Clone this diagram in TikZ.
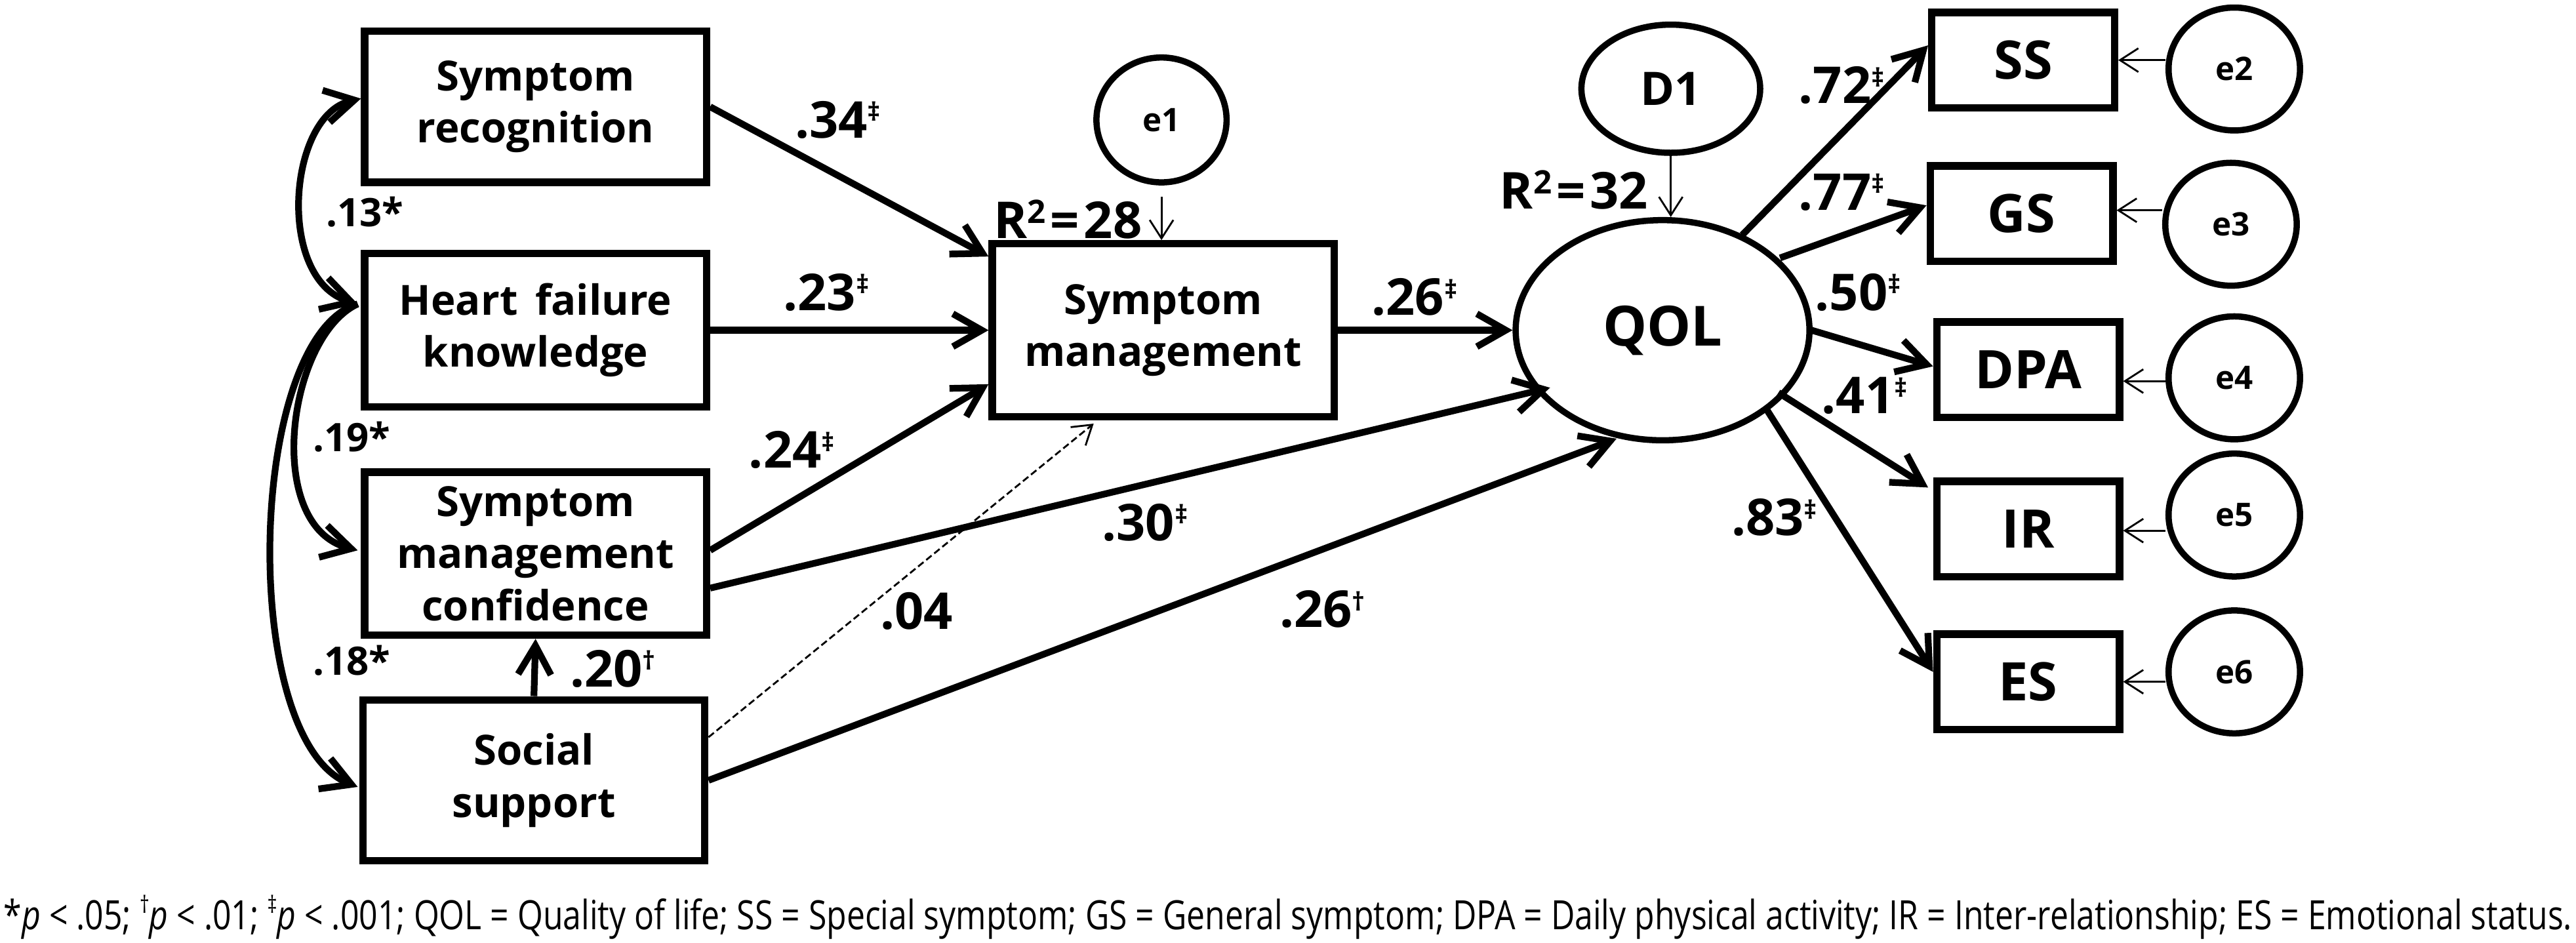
\documentclass[tikz,border=0pt]{standalone}
\usepackage{fontspec}
\setmainfont{Open Sans}
\usepackage{graphicx}
\usetikzlibrary{arrows.meta,shapes.geometric,calc}
\newcommand{\sigmark}[1]{\raisebox{0.33em}[0pt][0pt]{\fontsize{11}{11}\selectfont #1}}
\newcommand{\capsup}[1]{\raisebox{0.42em}[0pt][0pt]{\fontsize{10}{10}\selectfont #1}}
\newcommand{\rsqmark}{R\raisebox{0.3em}[0pt][0pt]{\fontsize{14}{14}\selectfont 2}\hspace{0.07cm}=\hspace{0.07cm}}
\begin{document}
\begin{tikzpicture}[x=0.025cm,y=-0.025cm,
  lbox/.style={draw, line width=3.2pt, minimum width=5.2cm, align=center, inner sep=0pt,
    font=\fontsize{18}{22.5}\selectfont\bfseries},
  rbox/.style={draw, line width=3.2pt, minimum width=2.78cm, minimum height=1.45cm, inner sep=0pt,
    font=\fontsize{23}{26}\selectfont\bfseries},
  lat/.style={draw, ellipse, line width=2.7pt, inner sep=0pt},
  etext/.style={font=\fontsize{14}{16}\selectfont\bfseries},
  coef/.style={inner sep=0pt, font=\fontsize{22}{24}\selectfont\bfseries},
  corr/.style={inner sep=0pt, font=\fontsize{17}{20}\selectfont\bfseries},
  heavy/.style={line width=2.9pt, -{Straight Barb[length=0.44cm,width=0.5cm]}},
  dheavy/.style={line width=2.9pt, {Straight Barb[length=0.44cm,width=0.5cm]}-{Straight Barb[length=0.44cm,width=0.5cm]}},
  thinarr/.style={line width=0.8pt, -{Straight Barb[length=0.28cm,width=0.36cm]}},
  dasharr/.style={line width=0.8pt, dash pattern=on 3pt off 1.5pt, -{Straight Barb[length=0.28cm,width=0.36cm]}}
]
\useasboundingbox (0,0) rectangle (1568,574);

% left boxes
\node[lbox, minimum height=2.3cm] (SR) at (326,65) {Symptom\\recognition};
\node[lbox, minimum height=2.33cm] (HFK) at (326,201) {Heart\hspace{0.42em}failure\\knowledge};
\node[lbox, minimum height=2.48cm] (SMC) at (326,337) {Symptom\\management\\confidence};
\node[lbox, minimum height=2.45cm] (SOC) at (325,475) {Social\\support};
\node[lbox, minimum height=2.63cm] (SM) at (708,201) {Symptom\\management};

% latent / error nodes
\node[lat, minimum width=4.47cm, minimum height=3.35cm, font=\fontsize{24}{26}\selectfont\bfseries] (QOL) at (1012,201) {QOL};
\node[lat, minimum width=2.72cm, minimum height=1.95cm, font=\fontsize{20}{22}\selectfont\bfseries] (D1) at (1017,54) {D1};
\node[lat, etext, minimum width=1.98cm, minimum height=1.9cm] (e1) at (707,73) {e1};

% right boxes
\node[rbox] (SS) at (1231.5,36.6) {SS};
\node[rbox] (GS) at (1230.5,130) {GS};
\node[rbox] (DPA) at (1234.5,225) {DPA};
\node[rbox] (IR) at (1234.5,322) {IR};
\node[rbox] (ES) at (1234.5,415) {ES};

\node[lat, etext, minimum width=2cm, minimum height=1.87cm] (e2) at (1360,42) {e2};
\node[lat, etext, minimum width=2cm, minimum height=1.87cm] (e3) at (1358,136.5) {e3};
\node[lat, etext, minimum width=2cm, minimum height=1.87cm] (e4) at (1360,230) {e4};
\node[lat, etext, minimum width=2cm, minimum height=1.87cm] (e5) at (1360,313.5) {e5};
\node[lat, etext, minimum width=2cm, minimum height=1.87cm] (e6) at (1360,409) {e6};

% paths into Symptom management
\draw[heavy] (SR.east) -- ($(SM.north west)+(0,10)$);
\draw[heavy] (HFK.east) -- (SM.west);
\draw[heavy] ($(SMC.east)+(0,-2)$) -- ($(SM.south west)+(0,-22)$);
\draw[dasharr] ($(SOC.north east)+(0,25)$) -- ($(SM.south west)+(64,2)$);
\draw[heavy] (SOC.north) -- (SMC.south);
\draw[thinarr] ($(e1.south)+(0,7)$) -- (e1.south |- SM.north);

% paths into QOL
\draw[heavy] (SM.east) -- (QOL.west);
\draw[heavy] ($(SMC.east)+(0,21)$) -- ($(QOL.center)+(-68.5,35)$);
\draw[heavy] (SOC.east) -- ($(QOL.center)+(-28,66)$);
\draw[thinarr] (D1.south) -- (D1.south |- QOL.north);

% QOL indicators
\draw[heavy] ($(QOL.center)+(48.5,-58)$) -- ($(SS.west)+(0,-9)$);
\draw[heavy] ($(QOL.center)+(71.5,-44)$) -- ($(GS.west)+(0,-5)$);
\draw[heavy] ($(QOL.center)+(89,-0.5)$) -- ($(DPA.west)+(0,-2)$);
\draw[heavy] ($(QOL.center)+(70.5,38)$) -- ($(IR.north west)+(-3,6)$);
\draw[heavy] ($(QOL.center)+(63.5,48.5)$) -- ($(ES.west)+(0,-6)$);

% error arrows
\coordinate (a2) at (SS.east);
\coordinate (a3) at ($(GS.east)+(0,-2)$);
\coordinate (a4) at ($(DPA.east)+(0,7)$);
\coordinate (a5) at ($(IR.east)+(0,1)$);
\coordinate (a6) at (ES.east);
\draw[thinarr] (e2.west |- a2) -- (a2);
\draw[thinarr] (e3.west |- a3) -- (a3);
\draw[thinarr] (e4.west |- a4) -- (a4);
\draw[thinarr] (e5.west |- a5) -- (a5);
\draw[thinarr] (e6.west |- a6) -- (a6);

% correlations
\draw[dheavy] ($(SR.west)+(0,-5)$) .. controls (175,70) and (168,170) .. ($(HFK.west)+(-2,-16)$);
\draw[heavy] ($(HFK.west)+(-2,-16)$) .. controls (175,205) and (160,320) .. ($(SMC.west)+(-2,-2)$);
\draw[heavy] ($(HFK.west)+(-2,-16)$) .. controls (150,205) and (145,450) .. ($(SOC.west)+(-1,4)$);

% labels
\node[coef] (c34) at (510,73) {.34\sigmark{‡}};
\node[coef] (c23) at (503,178) {.23\sigmark{‡}};
\node[coef] (c24) at (482,274) {.24\sigmark{‡}};
\node[coef] (c30) at (697,318) {.30\sigmark{‡}};
\node[coef] (c04) at (558,372) {.04};
\node[coef] (c26b) at (805,371) {.26\sigmark{†}};
\node[coef] (c26a) at (861,181) {.26\sigmark{‡}};
\node[coef] (c72) at (1121,52) {.72\sigmark{‡}};
\node[coef] (c77) at (1121,117) {.77\sigmark{‡}};
\node[coef] (c50) at (1131,178) {.50\sigmark{‡}};
\node[coef] (c41) at (1135,241) {.41\sigmark{‡}};
\node[coef] (c83) at (1080,315) {.83\sigmark{‡}};
\node[coef] (c20) at (373,407) {.20\sigmark{†}};
\node[corr] (r13) at (222,129) {.13*};
\node[corr] (r19) at (214,266) {.19*};
\node[corr] (r18) at (214,402) {.18*};
\node[coef] (rsq1) at (650,134) {\rsqmark 28};
\node[coef] (rsq2) at (958,116) {\rsqmark 32};

% caption
\node[anchor=base west, inner sep=0pt] (cap) at (2,566) {\resizebox{39.07cm}{0.47cm}{\fontsize{17}{20}\selectfont *\textit{p} < .05; \capsup{†}\textit{p} < .01; \capsup{‡}\textit{p} < .001; QOL = Quality of life; SS = Special symptom; GS = General symptom; DPA = Daily physical activity; IR = Inter-relationship; ES = Emotional status.}};
\end{tikzpicture}
\end{document}
